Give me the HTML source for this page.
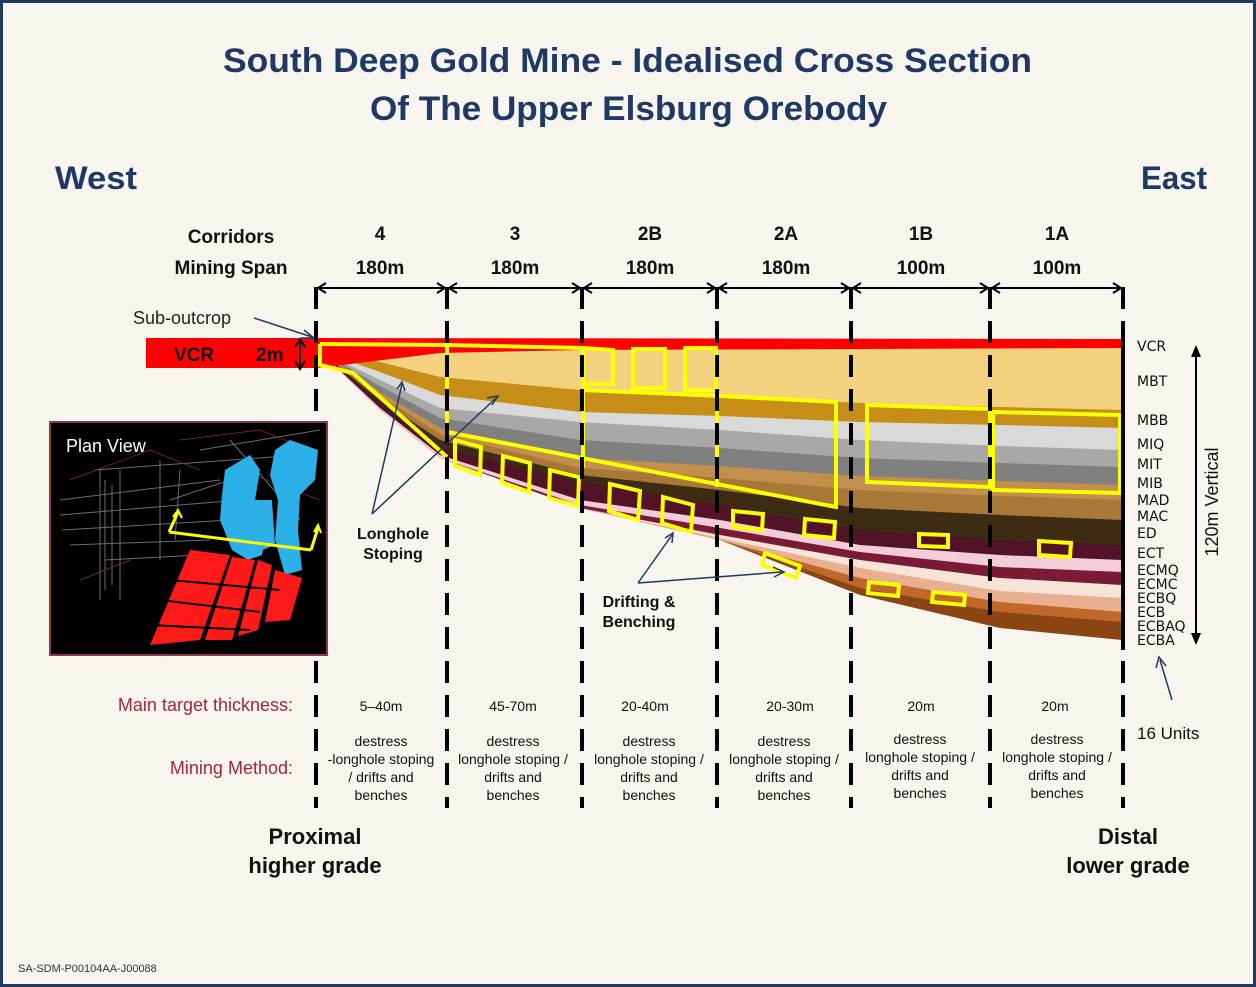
<!DOCTYPE html>
<html><head><meta charset="utf-8"><style>
html,body{margin:0;padding:0;background:#f8f5ef;}
svg{display:block;}
</style></head><body>
<svg width="1256" height="987" viewBox="0 0 1256 987" xmlns="http://www.w3.org/2000/svg" font-family="Liberation Sans, Arial, sans-serif">
<rect x="1.5" y="1.5" width="1253" height="984" fill="#f8f5ef" stroke="#1f3864" stroke-width="3"/>
<text x="223" y="72" font-size="34" font-weight="bold" fill="#1f3864" textLength="809" lengthAdjust="spacingAndGlyphs">South Deep Gold Mine -  Idealised Cross Section</text>
<text x="370" y="120" font-size="34" font-weight="bold" fill="#1f3864" textLength="517" lengthAdjust="spacingAndGlyphs">Of The Upper Elsburg Orebody</text>
<text x="55" y="189" font-size="32" font-weight="bold" fill="#1f3864" textLength="82" lengthAdjust="spacingAndGlyphs">West</text>
<text x="1141" y="189" font-size="32" font-weight="bold" fill="#1f3864" textLength="66" lengthAdjust="spacingAndGlyphs">East</text>

<g font-size="19" font-weight="bold" fill="#111" text-anchor="middle">
<text x="231" y="243">Corridors</text><text x="231" y="274">Mining Span</text>
<text x="380" y="240">4</text><text x="380" y="274">180m</text>
<text x="515" y="240">3</text><text x="515" y="274">180m</text>
<text x="650" y="240">2B</text><text x="650" y="274">180m</text>
<text x="786" y="240">2A</text><text x="786" y="274">180m</text>
<text x="921" y="240">1B</text><text x="921" y="274">100m</text>
<text x="1057" y="240">1A</text><text x="1057" y="274">100m</text>
</g>

<g>
<path fill="#8b4513" d="M318,343 L1122,343 L1122,640 L1000,628 L860,595 L720,540 L580,508 L440,458 L380,410 L318,350Z"/>
<path fill="#c0682a" d="M318,343 L1122,343 L1122,622 L1000,612 L860,588 L720,540 L580,508 L440,458 L380,410 L318,350Z"/>
<path fill="#e8b090" d="M318,343 L1122,343 L1122,612 L1000,602 L860,578 L720,540 L580,508 L440,458 L380,410 L318,350Z"/>
<path fill="#f7e4d8" d="M318,343 L1122,343 L1122,598 L1000,591 L860,568 L720,538 L580,508 L440,458 L380,410 L318,350Z"/>
<path fill="#7a1a35" d="M318,343 L1122,343 L1122,585 L1000,578 L860,560 L720,535 L580,508 L440,458 L380,410 L318,350Z"/>
<path fill="#f2cdd8" d="M318,343 L1122,343 L1122,572 L1000,567 L860,552 L720,528 L580,505 L440,458 L380,410 L318,350Z"/>
<path fill="#521228" d="M318,343 L1122,343 L1122,560 L1000,555 L860,545 L720,520 L580,500 L440,455 L380,408 L318,350Z"/>
<path fill="#3d2b14" d="M318,343 L1122,343 L1122,545 L1000,540 L860,530 L720,505 L580,482 L440,448 L380,404 L318,350Z"/>
<path fill="#a87838" d="M318,343 L1122,343 L1122,520 L1000,515 L860,508 L720,490 L580,475 L440,440 L380,400 L318,350Z"/>
<path fill="#c38f4c" d="M318,343 L1122,343 L1122,500 L1000,496 L860,490 L720,478 L580,468 L440,434 L380,396 L318,350Z"/>
<path fill="#808080" d="M318,343 L1122,343 L1122,485 L1000,481 L860,476 L720,466 L580,458 L440,428 L380,392 L318,350Z"/>
<path fill="#a8a8a8" d="M318,343 L1122,343 L1122,467 L1000,463 L860,458 L720,448 L580,440 L440,418 L380,386 L318,350Z"/>
<path fill="#d9d9d9" d="M318,343 L1122,343 L1122,450 L1000,446 L860,440 L720,430 L580,422 L440,408 L380,380 L318,350Z"/>
<path fill="#c68e17" d="M318,343 L1122,343 L1122,428 L1000,425 L860,422 L720,416 L580,412 L440,395 L380,372 L318,350Z"/>
<path fill="#f3d17f" d="M318,343 L1122,343 L1122,410 L1000,407 L860,403 L720,396 L580,390 L440,377 L380,362 L318,350Z"/>
<path fill="#ff0000" d="M318,338 L1122,339 L1122,348 L580,350 L440,353 L318,368Z"/>
<rect x="146" y="338" width="172" height="30" fill="#ff0000"/>
</g>
<text x="174" y="361" font-size="19" font-weight="bold" fill="#111">VCR</text>
<text x="256" y="361" font-size="19" font-weight="bold" fill="#111">2m</text>
<line x1="300" y1="342" x2="300" y2="366" stroke="#000" stroke-width="2"/>
<path d="M295,347 L300,339 L305,347 M295,361 L300,369 L305,361" fill="none" stroke="#000" stroke-width="2"/>
<text x="133" y="324" font-size="18" fill="#222">Sub-outcrop</text>
<line x1="254" y1="318" x2="312" y2="337" stroke="#1f3864" stroke-width="1.5"/>
<path d="M304,330 L314,338 L301,338" fill="none" stroke="#1f3864" stroke-width="1.5"/>

<g fill="none" stroke="#ffff00" stroke-width="4" stroke-linejoin="miter">
<path d="M320,344 L447,345 L447,432 M320,344 L320,365 L353,373 L447,457"/>
<path d="M447,345 L583,348 L583,468 M447,432 L836,507 L836,402 L720,396 L583,390"/>
<path d="M717,394 L717,487"/>
<path d="M583,348 L613,350 L613,384 L583,384"/>
<path d="M633,349 L665,349 L665,388 L633,388 Z"/>
<path d="M685,348 L716,348 L716,390 L685,390 Z"/>
<path d="M867,405 L990,409 L990,487 L867,482 Z"/>
<path d="M993,412 L1120,415 L1120,493 L993,490 Z"/>
<path d="M455,440 L481,447 L480,475 L455,466 Z"/>
<path d="M503,456 L530,463 L529,492 L502,483 Z"/>
<path d="M550,470 L579,477 L578,506 L549,498 Z"/>
<path d="M610,484 L640,491 L638,520 L609,511 Z"/>
<path d="M663,497 L693,505 L691,532 L662,523 Z"/>
<path d="M733,511 L763,514 L762,530 L733,527 Z"/>
<path d="M805,519 L835,522 L834,538 L804,535 Z"/>
<path d="M919,534 L948,535 L948,547 L919,546 Z"/>
<path d="M1039,541 L1071,543 L1070,557 L1039,555 Z"/>
<path d="M765,553 L800,566 L796,578 L762,565 Z"/>
<path d="M869,582 L899,585 L898,596 L868,593 Z"/>
<path d="M933,592 L965,595 L964,605 L932,602 Z"/>
</g>

<g stroke="#000" stroke-width="4" stroke-dasharray="22,12">
<line x1="316" y1="287" x2="316" y2="808"/>
<line x1="447" y1="287" x2="447" y2="808"/>
<line x1="582" y1="287" x2="582" y2="808"/>
<line x1="717" y1="287" x2="717" y2="808"/>
<line x1="851" y1="287" x2="851" y2="808"/>
<line x1="990" y1="287" x2="990" y2="808"/>
<line x1="1123" y1="287" x2="1123" y2="808"/>
</g>
<line x1="1123" y1="338" x2="1123" y2="650" stroke="#000" stroke-width="4"/>
<g stroke="#000" stroke-width="2" fill="none">
<line x1="318" y1="288" x2="445" y2="288"/><line x1="449" y1="288" x2="580" y2="288"/>
<line x1="584" y1="288" x2="715" y2="288"/><line x1="719" y1="288" x2="849" y2="288"/>
<line x1="853" y1="288" x2="988" y2="288"/><line x1="992" y1="288" x2="1121" y2="288"/>
<path d="M326,283 L318,288 L326,293 M437,283 L445,288 L437,293 M457,283 L449,288 L457,293 M572,283 L580,288 L572,293 M592,283 L584,288 L592,293 M707,283 L715,288 L707,293 M727,283 L719,288 L727,293 M841,283 L849,288 L841,293 M861,283 L853,288 L861,293 M980,283 L988,288 L980,293 M1000,283 L992,288 L1000,293 M1113,283 L1121,288 L1113,293"/>
</g>

<g font-size="14" fill="#111" font-family="DejaVu Sans, sans-serif">
<text x="1137" y="351">VCR</text><text x="1137" y="386">MBT</text><text x="1137" y="425">MBB</text>
<text x="1137" y="449">MIQ</text><text x="1137" y="469">MIT</text><text x="1137" y="488">MIB</text>
<text x="1137" y="505">MAD</text><text x="1137" y="521">MAC</text><text x="1137" y="538">ED</text>
<text x="1137" y="558">ECT</text><text x="1137" y="575">ECMQ</text><text x="1137" y="589">ECMC</text>
<text x="1137" y="603">ECBQ</text><text x="1137" y="617">ECB</text><text x="1137" y="631">ECBAQ</text>
<text x="1137" y="645">ECBA</text>
</g>
<line x1="1196" y1="350" x2="1196" y2="640" stroke="#000" stroke-width="2"/>
<path d="M1191,357 L1196,345 L1201,357 Z M1191,633 L1196,645 L1201,633 Z" fill="#000"/>
<text transform="translate(1218,502) rotate(-90)" text-anchor="middle" font-size="18" fill="#111">120m  Vertical</text>
<line x1="1160" y1="660" x2="1172" y2="700" stroke="#1f3864" stroke-width="1.5"/>
<path d="M1156,668 L1159,657 L1166,666" fill="none" stroke="#1f3864" stroke-width="1.5"/>
<text x="1137" y="739" font-size="17" fill="#111">16  Units</text>

<g font-size="16" font-weight="bold" fill="#111" text-anchor="middle">
<text x="393" y="539">Longhole</text><text x="393" y="559">Stoping</text>
<text x="639" y="607">Drifting &amp;</text><text x="639" y="627">Benching</text>
</g>
<g stroke="#1f3864" stroke-width="1.5" fill="none">
<path d="M372,514 L402,384 M372,514 L496,398"/>
<path d="M397,389 L402,382 L405,391 M487,398 L498,396 L492,405" />
<path d="M638,583 L672,535 M638,583 L782,572"/>
<path d="M665,538 L673,533 L672,543 M773,567 L784,572 L774,577"/>
</g>

<text x="293" y="711" text-anchor="end" font-size="18" fill="#a0283c">Main target thickness:</text>
<text x="293" y="774" text-anchor="end" font-size="18" fill="#a0283c">Mining Method:</text>
<g font-size="14" fill="#111" text-anchor="middle">
<text x="381" y="711">5–40m</text><text x="513" y="711">45-70m</text><text x="645" y="711">20-40m</text>
<text x="790" y="711">20-30m</text><text x="921" y="711">20m</text><text x="1055" y="711">20m</text>
<text x="381" y="746">destress</text><text x="381" y="764">-longhole stoping</text><text x="381" y="782">/ drifts and</text><text x="381" y="800">benches</text>
<text x="513" y="746">destress</text><text x="513" y="764">longhole stoping /</text><text x="513" y="782">drifts and</text><text x="513" y="800">benches</text>
<text x="649" y="746">destress</text><text x="649" y="764">longhole stoping /</text><text x="649" y="782">drifts and</text><text x="649" y="800">benches</text>
<text x="784" y="746">destress</text><text x="784" y="764">longhole stoping /</text><text x="784" y="782">drifts and</text><text x="784" y="800">benches</text>
<text x="920" y="744">destress</text><text x="920" y="762">longhole stoping /</text><text x="920" y="780">drifts and</text><text x="920" y="798">benches</text>
<text x="1057" y="744">destress</text><text x="1057" y="762">longhole stoping /</text><text x="1057" y="780">drifts and</text><text x="1057" y="798">benches</text>
</g>
<g font-size="22" font-weight="bold" fill="#111" text-anchor="middle">
<text x="315" y="844">Proximal</text><text x="315" y="873">higher grade</text>
<text x="1128" y="844">Distal</text><text x="1128" y="873">lower grade</text>
</g>
<text x="18" y="972" font-size="11" fill="#333">SA-SDM-P00104AA-J00088</text>

<rect x="50" y="422" width="277" height="233" fill="#000" stroke="#8a3a4a" stroke-width="2"/>
<g stroke="#888" stroke-width="1" fill="none" opacity="0.8">
<path d="M60,500 L220,480 M60,515 L240,500 M62,530 L230,520 M70,545 L210,540 M95,470 L300,455 M105,560 L200,555"/>
<path d="M100,470 L100,600 M105,480 L105,590 M112,485 L112,585 M120,470 L120,600 M160,460 L160,560 M180,470 L175,540"/>
<path d="M200,450 L320,430 M230,440 L300,520 M170,500 L260,470"/>
</g>
<g stroke="#7a2a4a" stroke-width="1" fill="none" opacity="0.8">
<path d="M70,480 L150,450 L200,470 M180,440 L260,430 L310,450 M80,580 L130,560 M240,470 L320,500"/>
</g>
<g fill="#2bb0e8">
<path d="M225,470 L250,455 L260,470 L255,500 L268,525 L262,555 L248,560 L232,550 L220,520 L222,495 Z"/>
<path d="M275,450 L290,440 L318,450 L315,480 L300,495 L298,530 L302,570 L285,575 L275,540 L278,500 L270,475 Z"/>
<path d="M255,500 L272,500 L275,545 L262,550 Z"/>
</g>
<g fill="#ff1a1a">
<path d="M190,550 L230,555 L200,640 L150,645 Z"/>
<path d="M232,557 L255,560 L232,640 L205,640 Z"/>
<path d="M258,560 L272,565 L258,630 L238,636 Z"/>
<path d="M275,570 L302,578 L290,620 L265,622 Z"/>
</g>
<g stroke="#000" stroke-width="2"><path d="M160,600 L260,612 M170,580 L280,590 M150,625 L250,630"/></g>
<text x="66" y="452" font-size="18" fill="#fff">Plan View</text>
<g stroke="#ffff00" stroke-width="3" fill="none">
<path d="M169,532 L311,550 M169,532 L178,512 M311,550 L318,528"/>
<path d="M173,517 L178,510 L182,518 M314,532 L318,525 L321,533" stroke-width="2"/>
</g>
</svg>
</body></html>
